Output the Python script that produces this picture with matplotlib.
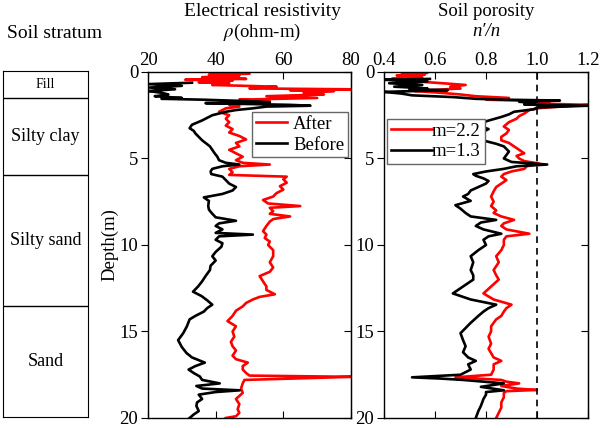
import numpy as np
import matplotlib
matplotlib.use('Agg')
import matplotlib.pyplot as plt

plt.rcParams['font.family'] = ['Liberation Serif', 'DejaVu Serif']
plt.rcParams['mathtext.fontset'] = 'stix'

# soil layers (bottom depth of each layer, m)
layer_names = ['Fill', 'Silty clay', 'Silty sand', 'Sand']
layer_bottoms = [1.56, 6.0, 13.6, 20.0]

# electrical resistivity, after treatment (red)
res_after_depth = [0.0, 0.05, 0.1, 0.15, 0.2, 0.3, 0.4, 0.45, 0.5, 0.6, 0.65, 0.75, 0.85, 0.95, 1.0,
                   1.05, 1.1, 1.2, 1.3, 1.4, 1.5, 1.6, 1.7, 1.8, 1.9, 2.0, 2.1, 2.3, 2.5, 2.7, 2.9,
                   3.1, 3.3, 3.5, 3.7, 3.9, 4.1, 4.3, 4.5, 4.7, 4.9, 5.1, 5.25, 5.35, 5.45, 5.6,
                   5.8, 5.95, 6.05, 6.2, 6.4, 6.6, 6.8, 7.0, 7.2, 7.4, 7.6, 7.75, 7.85, 8.05, 8.2,
                   8.35, 8.5, 8.65, 8.9, 9.2, 9.4, 9.6, 9.8, 10.0, 10.3, 10.65, 11.0, 11.3, 11.55,
                   11.8, 12.1, 12.4, 12.6, 12.85, 13.0, 13.15, 13.35, 13.55, 13.8, 14.1, 14.4,
                   14.7, 15.0, 15.3, 15.6, 15.85, 16.1, 16.4, 16.6, 16.8, 17.0, 17.2, 17.4, 17.55,
                   17.62, 17.68, 17.8, 18.0, 18.3, 18.55, 18.9, 19.2, 19.5, 19.7, 19.9, 20.0]
res_after = [48, 40, 50, 38, 47, 36, 49, 31, 45, 35, 44, 39, 58, 50, 80,
             62, 75, 66, 72, 55, 70, 47, 56, 50, 44, 47, 43, 41, 44, 43, 44,
             43, 45, 44, 47, 49, 46, 47, 44, 46, 48, 46, 48, 56, 47, 44,
             45, 44, 61, 60, 61, 59, 60, 58, 57, 54, 55.5, 65, 56, 57, 56,
             62, 57, 56, 55, 54, 55, 54.5, 56, 55.5, 57, 57, 56, 57, 56,
             53, 54, 55, 55, 57.5, 53, 51, 49, 48, 46, 45, 43.5,
             46, 45, 45.5, 44.5, 45, 46, 45, 46, 49.5, 48, 48, 49, 50,
             80, 70, 48.5, 48, 47.5, 48, 46, 47, 46.5, 47, 46, 43]

# electrical resistivity, before treatment (black)
res_before_depth = [0.62, 0.7, 0.8, 0.9, 1.0, 1.1, 1.2, 1.3, 1.4, 1.5, 1.55, 1.6, 1.7, 1.75, 1.8,
                    1.9, 1.95, 2.0, 2.1, 2.2, 2.3, 2.5, 2.8, 3.05, 3.25, 3.4, 3.55, 3.75, 3.95,
                    4.1, 4.3, 4.5, 4.7, 4.9, 5.1, 5.25, 5.35, 5.45, 5.6, 5.75, 5.9, 6.05, 6.25,
                    6.45, 6.65, 6.85, 7.05, 7.25, 7.45, 7.75, 7.95, 8.15, 8.4, 8.6, 8.75, 8.9,
                    9.1, 9.3, 9.4, 9.5, 9.7, 9.9, 10.1, 10.4, 10.65, 10.9, 11.2, 11.45, 11.8,
                    12.1, 12.4, 12.7, 12.95, 13.2, 13.45, 13.65, 13.85, 14.1, 14.3, 14.7, 15.1,
                    15.5, 15.9, 16.25, 16.5, 16.8, 17.0, 17.2, 17.4, 17.6, 17.8, 18.0, 18.15,
                    18.3, 18.4, 18.5, 18.65, 18.9, 19.1, 19.3, 19.6, 19.8, 20.0]
res_before = [33, 20, 30, 20.5, 28, 20, 24, 26, 22, 30, 24, 36, 52, 56, 37,
              62, 68, 55, 51, 46, 43, 39, 36, 33, 32.3, 33.5, 34, 35, 36,
              37, 38.3, 39, 39.7, 40.5, 41, 43, 47, 42, 39, 38.5, 38.7, 42, 43,
              44, 46, 45, 42, 36.5, 38, 37.8, 38, 38.8, 40, 46, 41, 40,
              42, 40, 51, 41, 40, 42, 41.7, 40, 39, 40, 38.5, 38.3, 37,
              36, 34.8, 33.3, 35.8, 37.5, 39, 37.5, 36.5, 34, 32.3, 31.5, 30.4,
              28.9, 30, 31.4, 33, 36.8, 34, 32, 33.5, 35.3, 36, 41.2, 34.3,
              36, 47.1, 40, 35, 36, 34.5, 34.3, 35, 33.5, 32.3]

# soil porosity ratio n'/n, m = 2.2 (red)
por_a_depth = [0.0, 0.05, 0.1, 0.15, 0.2, 0.3, 0.4, 0.45, 0.55, 0.65, 0.75, 0.85, 0.95, 1.05, 1.1,
               1.2, 1.3, 1.4, 1.5, 1.6, 1.7, 1.8, 1.9, 2.0, 2.1, 2.2, 2.4, 2.55, 2.7, 2.9, 3.15,
               3.35, 3.55, 3.75, 3.95, 4.1, 4.3, 4.5, 4.7, 4.85, 5.0, 5.15, 5.3, 5.45, 5.6,
               5.75, 5.9, 6.05, 6.25, 6.45, 6.65, 6.9, 7.2, 7.5, 7.75, 8.0, 8.15, 8.35, 8.55,
               8.75, 8.9, 9.1, 9.35, 9.5, 9.7, 10.0, 10.3, 10.65, 11.0, 11.45, 11.75, 12.0,
               12.4, 12.8, 13.15, 13.45, 13.65, 13.85, 14.1, 14.3, 14.7, 15.0, 15.3, 15.7,
               16.0, 16.25, 16.5, 16.7, 16.9, 17.2, 17.5, 17.65, 17.8, 17.9, 18.0, 18.15,
               18.3, 18.38, 18.45, 18.55, 18.8, 19.1, 19.4, 19.7, 20.0]
por_a = [0.51, 0.57, 0.47, 0.56, 0.45, 0.55, 0.43, 0.57, 0.53, 0.63, 0.72, 0.66, 0.70, 0.58, 0.52,
         0.62, 0.70, 0.76, 0.89, 0.80, 1.05, 0.95, 1.20, 1.09, 1.00, 0.97, 0.95, 0.93, 0.92, 0.89, 0.87,
         0.89, 0.88, 0.86, 0.86, 0.89, 0.91, 0.93, 0.95, 0.92, 0.93, 0.95, 1.01, 0.96, 0.95,
         0.90, 0.87, 0.86, 0.88, 0.86, 0.84, 0.83, 0.82, 0.83, 0.82, 0.84, 0.83, 0.86, 0.91,
         0.87, 0.86, 0.88, 0.97, 0.88, 0.87, 0.87, 0.86, 0.84, 0.85, 0.83, 0.84, 0.85,
         0.82, 0.79, 0.83, 0.90, 0.88, 0.87, 0.86, 0.84, 0.82, 0.82, 0.81, 0.82,
         0.81, 0.82, 0.83, 0.86, 0.83, 0.83, 0.82, 0.68, 0.86, 0.88, 0.93, 0.86,
         0.92, 1.00, 0.88, 0.87, 0.87, 0.86, 0.86, 0.85, 0.84]

# soil porosity ratio n'/n, m = 1.3 (black)
por_b_depth = [0.4, 0.45, 0.55, 0.65, 0.75, 0.85, 0.95, 1.0, 1.05, 1.15, 1.25, 1.35, 1.45, 1.55, 1.6,
               1.65, 1.72, 1.8, 1.88, 1.95, 2.05, 2.15, 2.3, 2.45, 2.6, 2.85, 3.0, 3.15, 3.3,
               3.45, 3.6, 3.75, 3.9, 4.0, 4.15, 4.3, 4.45, 4.6, 4.8, 5.0, 5.2, 5.35, 5.45, 5.6,
               5.75, 5.9, 6.0, 6.15, 6.3, 6.45, 6.65, 6.85, 7.05, 7.2, 7.45, 7.7, 7.9, 8.15,
               8.35, 8.55, 8.7, 8.9, 9.1, 9.35, 9.5, 9.7, 10.0, 10.3, 10.65, 11.0, 11.45,
               11.75, 12.0, 12.4, 12.8, 13.15, 13.45, 13.65, 13.85, 14.1, 14.5, 14.8, 15.1,
               15.5, 15.85, 16.2, 16.5, 16.7, 16.9, 17.2, 17.5, 17.65, 17.72, 17.8, 18.0,
               18.2, 18.4, 18.5, 18.65, 18.9, 19.3, 19.6, 20.0]
por_b = [0.58, 0.40, 0.57, 0.42, 0.55, 0.44, 0.57, 0.50, 0.65, 0.40, 0.47, 0.51, 0.67, 0.76, 0.87,
         1.09, 0.93, 0.99, 0.95, 1.20, 1.00, 0.99, 0.91, 0.89, 0.86, 0.80, 0.79, 0.78, 0.81,
         0.79, 0.77, 0.77, 0.79, 0.80, 0.84, 0.87, 0.88, 0.89, 0.88, 0.87, 0.90, 1.04, 0.92, 0.87,
         0.80, 0.75, 0.76, 0.79, 0.81, 0.80, 0.77, 0.74, 0.73, 0.71, 0.74, 0.68, 0.70, 0.72,
         0.74, 0.84, 0.78, 0.76, 0.79, 0.86, 0.81, 0.79, 0.80, 0.77, 0.74, 0.75, 0.74,
         0.75, 0.75, 0.71, 0.67, 0.74, 0.84, 0.81, 0.79, 0.77, 0.74, 0.72, 0.70,
         0.71, 0.72, 0.71, 0.73, 0.76, 0.73, 0.74, 0.70, 0.51, 0.62, 0.71, 0.87,
         0.78, 0.87, 0.80, 0.80, 0.79, 0.78, 0.77, 0.76]

fs = 13.5
lw = 1.9
fig = plt.figure(figsize=(6, 4.28), dpi=100)

# stratum column
axs = fig.add_axes([0.005, 0.0257, 0.1417, 0.8084])
axs.set_xlim(0, 1)
axs.set_ylim(20, 0)
axs.set_xticks([])
axs.set_yticks([])
top = 0
for name, bot in zip(layer_names, layer_bottoms):
    if bot < 20:
        axs.axhline(bot, color='black', lw=1)
    axs.text(0.5, (top + bot) / 2, name, ha='center', va='center',
             fontsize=10 if name == 'Fill' else 13)
    top = bot
fig.text(7 / 600, 1 - 33 / 428, 'Soil stratum', fontsize=14, ha='left', va='center')


def style_axes(ax):
    ax.set_ylim(20, 0)
    ax.set_yticks([0, 5, 10, 15, 20])
    ax.xaxis.tick_top()
    ax.tick_params(axis='x', which='both', direction='in', top=True, bottom=True,
                   labeltop=True, labelbottom=False, labelsize=fs, length=5, pad=2)
    ax.tick_params(axis='y', direction='out', labelsize=fs, length=5, pad=2)
    sec = ax.secondary_yaxis('right')
    sec.set_yticks([0, 5, 10, 15, 20])
    sec.tick_params(direction='in', labelright=False, length=5)
    for s in ax.spines.values():
        s.set_linewidth(1)


# resistivity
ax1 = fig.add_axes([148 / 600, 0.0234, 203 / 600, 0.8084])
l1, = ax1.plot(res_after, res_after_depth, color='red', lw=lw)
l2, = ax1.plot(res_before, res_before_depth, color='black', lw=lw)
ax1.set_xlim(20, 80)
ax1.set_xticks([20, 40, 60, 80])
style_axes(ax1)
ax1.legend([l1, l2], ['After', 'Before'], loc='upper right', bbox_to_anchor=(0.985, 0.885),
           borderaxespad=0, fontsize=fs, fancybox=False, edgecolor='0.4', framealpha=1,
           handlelength=1.7, handletextpad=0.3, labelspacing=0.2, borderpad=0.2)
fig.text(110 / 600, 1 - 245 / 428, 'Depth(m)', rotation=90, fontsize=fs, ha='center', va='center')
fig.text(262 / 600, 1 - 12 / 428, 'Electrical resistivity', fontsize=14, ha='center', va='center')
fig.text(262 / 600, 1 - 32 / 428, '$\\rho$(ohm-m)', fontsize=fs, ha='center', va='center')

# porosity
ax2 = fig.add_axes([384 / 600, 0.0234, 204 / 600, 0.8084])
l3, = ax2.plot(por_a, por_a_depth, color='red', lw=lw)
l4, = ax2.plot(por_b, por_b_depth, color='black', lw=lw)
ax2.axvline(1.0, color='black', lw=1.2, ls=(0, (4, 3)))
ax2.set_xlim(0.4, 1.2)
ax2.set_xticks([0.4, 0.6, 0.8, 1.0, 1.2])
style_axes(ax2)
ax2.legend([l3, l4], ['m=2.2', 'm=1.3'], loc='upper left', bbox_to_anchor=(0.015, 0.865),
           borderaxespad=0, fontsize=fs, fancybox=False, edgecolor='0.4', framealpha=1,
           handlelength=2.2, handletextpad=0.0, labelspacing=0.2, borderpad=0.2)
fig.text(486 / 600, 1 - 12 / 428, 'Soil porosity', fontsize=fs, ha='center', va='center')
fig.text(486 / 600, 1 - 32 / 428, 'n\u2032/n', fontsize=fs, style='italic',
         ha='center', va='center')

fig.savefig('out.png', dpi=100)
